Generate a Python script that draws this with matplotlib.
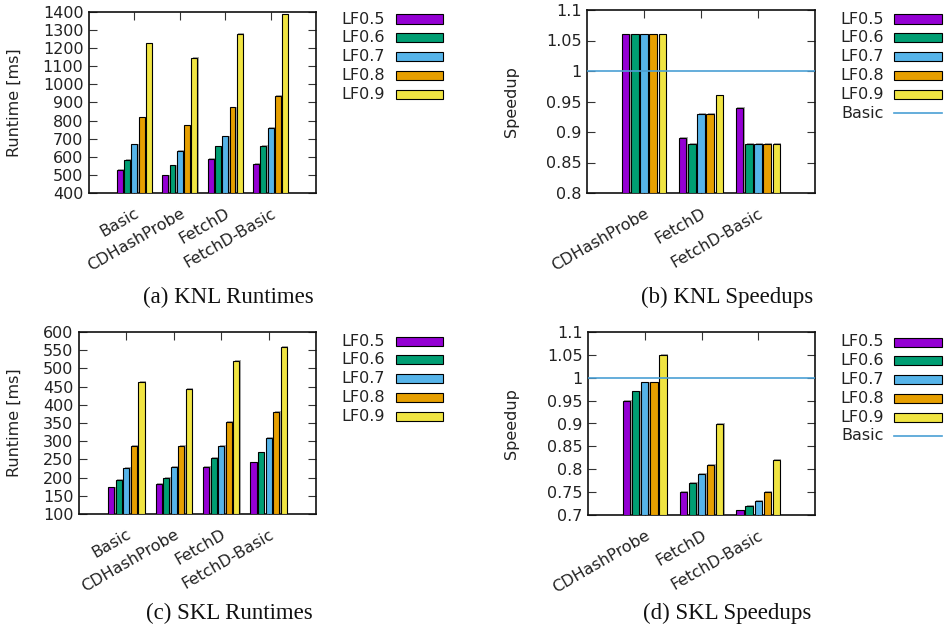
import matplotlib
matplotlib.use("Agg")
import matplotlib.pyplot as plt
import matplotlib.transforms as mtransforms
from matplotlib.patches import Rectangle
from matplotlib.lines import Line2D
import numpy as np

series = ["LF0.5", "LF0.6", "LF0.7", "LF0.8", "LF0.9"]
colors = ["#9400D3", "#009E73", "#56B4E9", "#E69F00", "#F0E442"]

cats_rt = ["Basic", "CDHashProbe", "FetchD", "FetchD-Basic"]
cats_sp = ["CDHashProbe", "FetchD", "FetchD-Basic"]

# (a) KNL runtimes [ms], rows = categories, cols = LF series
knl_rt = [
    [528, 584, 669, 818, 1226],
    [497, 552, 631, 774, 1147],
    [589, 658, 713, 873, 1280],
    [561, 660, 759, 935, 1387],
]
# (b) KNL speedups
knl_sp = [
    [1.06, 1.06, 1.06, 1.06, 1.06],
    [0.89, 0.88, 0.93, 0.93, 0.96],
    [0.94, 0.88, 0.88, 0.88, 0.88],
]
# (c) SKL runtimes [ms]
skl_rt = [
    [173, 194, 226, 286, 463],
    [182, 199, 229, 286, 443],
    [230, 254, 287, 353, 520],
    [242, 269, 309, 381, 560],
]
# (d) SKL speedups
skl_sp = [
    [0.95, 0.97, 0.99, 0.99, 1.05],
    [0.75, 0.77, 0.79, 0.81, 0.90],
    [0.71, 0.72, 0.73, 0.75, 0.82],
]
baseline = 1.0

FS = 11.5
W, H = 952, 634
plt.rcParams["font.family"] = "DejaVu Sans"
fig = plt.figure(figsize=(W / 100, H / 100), dpi=100)


def fpos(l, t, r, b):
    return [l / W, 1 - b / H, (r - l) / W, (b - t) / H]


def draw(ax, cats, data, ylim, yticks, ylabel, xlim, speedup):
    data = np.array(data)
    pitch, bw = 0.16, 0.13
    x = np.arange(len(cats))
    shadow = ax.transData + mtransforms.ScaledTranslation(1.4 / 100, 0.8 / 100, fig.dpi_scale_trans)
    for i in range(len(series)):
        xs = x + (i - 2) * pitch
        ax.bar(xs, data[:, i] - ylim[0], bw, bottom=ylim[0], color="#a8a8a8",
               edgecolor="none", transform=shadow, zorder=2)
        ax.bar(xs, data[:, i] - ylim[0], bw, bottom=ylim[0], color=colors[i],
               edgecolor="black", linewidth=0.8, zorder=3)
    if speedup:
        ax.axhline(baseline, color="#4a9fd4", lw=1.2, zorder=4)
    ax.set_xlim(*xlim)
    ax.set_ylim(*ylim)
    ax.set_yticks(yticks)
    ax.set_yticklabels([("%g" % v) for v in yticks], fontsize=FS)
    ax.set_xticks(x)
    ax.set_xticklabels(cats, fontsize=FS, rotation=30, ha="right", va="top",
                       rotation_mode="anchor")
    ax.tick_params(direction="in", length=6, width=0.8, top=True, right=True,
                   colors="#333333", labelcolor="#222222")
    ax.tick_params(axis="x", pad=9)
    ax.tick_params(axis="y", pad=4)
    for s in ax.spines.values():
        s.set_linewidth(1.2)
        s.set_color("#111111")
    ax.set_ylabel(ylabel, fontsize=FS, color="#222222")


def legend(xr, ytop, x0, x1, basic):
    for i, (s, c) in enumerate(zip(series, colors)):
        y = ytop + i * 18.8
        fig.text(xr / W, 1 - y / H, s, ha="right", va="center", fontsize=FS, color="#222222")
        fig.patches.append(Rectangle((x0 / W, 1 - (y + 4.5) / H), (x1 - x0) / W, 9 / H,
                                     transform=fig.transFigure, facecolor=c,
                                     edgecolor="black", linewidth=0.8))
    if basic:
        y = ytop + 5 * 18.8
        fig.text(xr / W, 1 - y / H, "Basic", ha="right", va="center", fontsize=FS, color="#222222")
        fig.lines.append(Line2D([x0 / W, x1 / W], [1 - y / H, 1 - y / H],
                                transform=fig.transFigure, color="#4a9fd4", lw=1.2))


axa = fig.add_axes(fpos(89, 12, 316, 193))
draw(axa, cats_rt, knl_rt, (400, 1400), list(range(400, 1401, 100)), "Runtime [ms]", (-1, 4), False)
axb = fig.add_axes(fpos(587, 10, 815, 193))
draw(axb, cats_sp, knl_sp, (0.8, 1.1), [0.8, 0.85, 0.9, 0.95, 1.0, 1.05, 1.1], "Speedup", (-1, 3), True)
axc = fig.add_axes(fpos(79, 332, 316, 514))
draw(axc, cats_rt, skl_rt, (100, 600), list(range(100, 601, 50)), "Runtime [ms]", (-1, 4), False)
axd = fig.add_axes(fpos(588, 332, 815, 515))
draw(axd, cats_sp, skl_sp, (0.7, 1.1), [0.7, 0.75, 0.8, 0.85, 0.9, 0.95, 1.0, 1.05, 1.1], "Speedup", (-1, 3), True)

axa.yaxis.set_label_coords((22 - 89) / 227, 0.5)
axc.yaxis.set_label_coords((22 - 79) / 237, 0.5)
axb.yaxis.set_label_coords((519 - 587) / 228, 0.5)
axd.yaxis.set_label_coords((519 - 588) / 227, 0.5)

legend(385, 19, 396, 443, False)
legend(884, 19, 894, 942, True)
legend(385, 341, 396, 443, False)
legend(884, 342, 894, 942, True)

cap = dict(ha="center", va="center", fontsize=16.5, family="Liberation Serif", color="#111111")
fig.text(228 / W, 1 - 297 / H, "(a) KNL Runtimes", **cap)
fig.text(727 / W, 1 - 297 / H, "(b) KNL Speedups", **cap)
fig.text(229 / W, 1 - 613 / H, "(c) SKL Runtimes", **cap)
fig.text(727 / W, 1 - 613 / H, "(d) SKL Speedups", **cap)

fig.savefig("out.png", dpi=100)
